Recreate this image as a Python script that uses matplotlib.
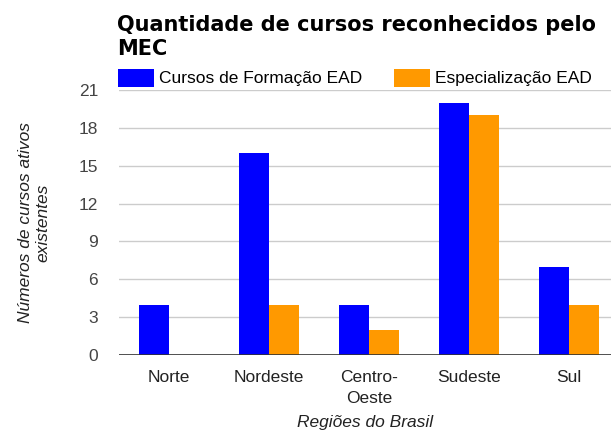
import matplotlib.pyplot as plt
import numpy as np

plt.rcParams['font.family'] = ['Liberation Sans', 'DejaVu Sans']

regioes = ['Norte', 'Nordeste', 'Centro-\nOeste', 'Sudeste', 'Sul']
formacao = [4, 16, 4, 20, 7]
especializacao = [0, 4, 2, 19, 4]
yticks = [0, 3, 6, 9, 12, 15, 18, 21]

fig = plt.figure(figsize=(6.11, 4.32), dpi=100)
ax = fig.add_axes([119/611, 77/432, 1 - 119/611, 265/432])

x = np.arange(len(regioes))
w = 0.3
ax.bar(x - w/2, formacao, w, color='#0000ff', edgecolor='none', label='Cursos de Formação EAD', zorder=2)
ax.bar(x + w/2, especializacao, w, color='#ff9900', edgecolor='none', label='Especialização EAD', zorder=2)

ax.set_xlim(-0.5, 4.42)
ax.set_ylim(0, 21)
ax.set_yticks(yticks)
ax.set_xticks(x)
ax.set_xticklabels(regioes, linespacing=1.5)
ax.grid(axis='y', color='#cccccc', linewidth=1, zorder=0)
ax.axhline(0, color='#333333', linewidth=1.2, zorder=3)
for s in ax.spines.values():
    s.set_visible(False)
ax.tick_params(length=0, labelsize=12.5, labelcolor='#222222')
ax.tick_params(axis='y', pad=15, labelcolor='#444444')
ax.tick_params(axis='x', pad=11)

ax.set_xlabel('Regiões do Brasil', fontsize=12.5, style='italic', color='#222222', labelpad=6)
ax.set_ylabel('Números de cursos ativos\nexistentes', fontsize=12.5, style='italic', color='#222222', labelpad=20)

# titulo em duas linhas
fig.text(117/611, 1 - 31/432, 'Quantidade de cursos reconhecidos pelo', fontsize=15,
         fontweight='bold', family='DejaVu Sans', ha='left', va='baseline')
fig.text(117/611, 1 - 55/432, 'MEC', fontsize=15,
         fontweight='bold', family='DejaVu Sans', ha='left', va='baseline')

ax.legend(loc='lower left', bbox_to_anchor=(-0.009, 1.0), ncol=2, frameon=False, fontsize=12.5,
          handlelength=2.07, handleheight=1.2, handletextpad=0.3, columnspacing=1.8, borderaxespad=0.2,
          borderpad=0.0)

fig.savefig('out.png', dpi=100)
